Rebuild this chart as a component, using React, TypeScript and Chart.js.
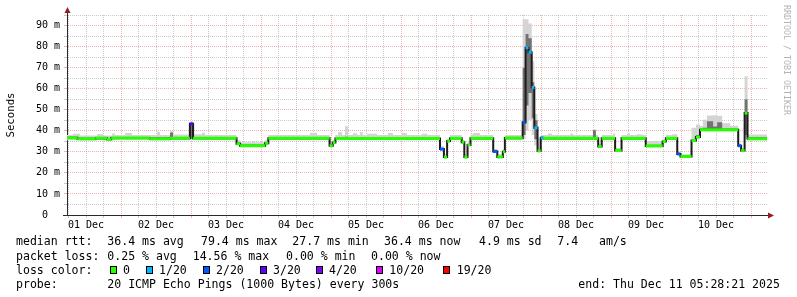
import React, { useEffect, useRef } from 'react';
import { Chart, registerables } from 'chart.js';

Chart.register(...registerables);

// ---- time base: hours since 01 Dec 00:00 (graph spans 10 days ending Dec 11 05:28:21)
const START_HOUR = 5 + 28 / 60 + 21 / 3600;
const END_HOUR = START_HOUR + 240;

const dayLabels = ['01 Dec', '02 Dec', '03 Dec', '04 Dec', '05 Dec', '06 Dec', '07 Dec', '08 Dec', '09 Dec', '10 Dec'];

// ---- median RTT (ms), step series: value holds from time until next time
const medianTimes = [5.47, 9.0, 15.3, 19.2, 20.6, 33.9, 40.8, 47.6, 48.7, 63.6, 64.8, 73.4, 74.5, 95.5, 96.6, 97.5,
  133.35, 134.7, 135.8, 136.8, 140.8, 141.7, 142.8, 143.8, 151.6, 153.0, 154.9, 155.6, 161.7, 162.7, 163.7, 164.8,
  165.7, 166.8, 167.9, 168.7, 187.6, 188.8, 193.4, 195.6, 203.9, 209.7, 210.8, 214.7, 215.8, 219.6, 221.1, 222.5,
  235.6, 236.6, 237.8, 238.8];
const medianValues = [36.7, 36.2, 36.5, 36.0, 36.6, 36.2, 36.5, 43.3, 36.5, 33.8, 32.9, 34.1, 36.5, 32.9, 34.4, 36.3,
  31.3, 27.5, 35.1, 36.4, 34.6, 27.5, 33.3, 36.4, 30.2, 27.6, 30.1, 36.6, 44.0, 79.5, 77.3, 60.6,
  41.4, 30.5, 36.7, 36.4, 32.5, 36.4, 30.6, 36.4, 32.8, 34.9, 36.4, 29.0, 27.8, 35.4, 37.0, 40.5,
  32.9, 30.6, 48.4, 36.2];
// lost pings out of 20 for each median step
const medianLoss = [0, 0, 0, 0, 0, 0, 0, 3, 0, 0, 0, 0, 0, 0, 0, 0,
  2, 0, 0, 0, 0, 0, 0, 0, 2, 0, 0, 0, 2, 1, 1, 1,
  1, 0, 1, 0, 0, 0, 0, 0, 0, 0, 0, 2, 0, 0, 0, 0,
  2, 0, 0, 0];

// ---- smoke (ping spread, ms)
const smokeTimes = [5.47, 7.5, 9.9, 15.8, 17.8, 20.9, 21.9, 25.4, 27.8, 36.3, 37.4, 40.8, 41.8, 47.6, 48.7, 51.8,
  52.8, 63.6, 64.8, 68.9, 69.9, 73.4, 74.5, 88.8, 91.2, 95.5, 96.6, 97.5, 98.4, 99.8, 100.8, 101.8,
  103.5, 104.9, 105.9, 106.9, 108.3, 111.8, 115.5, 117.2, 120.3, 122.0, 127.2, 128.9, 133.35, 134.7, 135.8, 136.8,
  140.8, 141.7, 142.8, 143.8, 144.7, 147.1, 151.6, 153.0, 154.9, 155.6, 161.7, 162.7, 163.7, 164.8,
  165.7, 166.8, 167.9, 170.4, 171.8, 178.0, 179.0, 185.8, 186.8, 187.6, 188.8, 192.6, 193.4, 195.6, 197.5, 198.5,
  200.9, 202.9, 203.9, 209.7, 210.8, 212.9, 214.7, 215.8, 219.6, 221.1, 222.5, 223.5, 224.9, 227.0, 228.4, 230.1,
  232.9, 235.6, 236.6, 237.8, 238.8];
const smokeMin = [35.5, 35.5, 35.4, 35.5, 35.4, 35.4, 35.5, 35.5, 35.5, 35.5, 35.5, 35.6, 35.5, 35.5, 35.5, 35.5,
  35.5, 33.2, 32.3, 32.3, 32.3, 33.6, 35.5, 35.5, 35.5, 32.3, 33.8, 35.5, 35.5, 35.5, 35.5, 35.5,
  35.5, 35.5, 35.5, 35.5, 35.5, 35.5, 35.5, 35.5, 35.5, 35.5, 35.5, 35.5, 30.8, 27.0, 34.6, 35.5,
  34.0, 27.0, 32.8, 35.5, 35.5, 35.5, 29.6, 27.0, 29.6, 35.5, 36.0, 40.0, 45.0, 38.0,
  33.0, 29.8, 35.5, 35.5, 35.5, 35.5, 35.5, 35.5, 35.5, 31.8, 35.5, 35.5, 30.0, 35.5, 35.5, 35.5,
  35.5, 35.5, 32.2, 34.3, 35.5, 35.5, 28.5, 27.2, 34.8, 36.4, 39.8, 39.8, 39.8, 39.8, 39.8, 39.8,
  39.8, 32.3, 30.0, 36.5, 35.5];
const smokeMax = [38.0, 38.6, 37.8, 38.5, 37.8, 38.7, 38.0, 39.0, 38.0, 39.6, 38.0, 39.8, 38.2, 43.8, 38.4, 39.1,
  38.0, 35.6, 34.6, 35.2, 34.6, 35.6, 38.0, 39.1, 38.0, 34.6, 35.8, 38.0, 39.4, 38.0, 42.2, 38.0,
  38.8, 38.0, 39.4, 38.0, 38.6, 38.0, 39.0, 38.0, 39.0, 38.0, 38.6, 38.0, 32.6, 28.8, 36.2, 38.0,
  35.8, 28.8, 34.6, 38.2, 39.0, 38.0, 31.4, 28.8, 31.4, 38.0, 93.0, 93.0, 91.0, 73.0,
  48.0, 36.4, 38.0, 38.7, 38.0, 38.7, 38.0, 40.7, 38.0, 33.8, 38.0, 38.7, 31.8, 38.0, 38.7, 38.0,
  38.4, 38.0, 35.2, 36.0, 38.0, 38.4, 30.2, 28.9, 41.5, 43.0, 42.4, 45.2, 47.3, 47.4, 47.1, 43.6,
  42.4, 34.0, 31.8, 65.9, 38.2];
const smokeCoreLo = [36.2, 36.2, 36.0, 36.0, 35.8, 36.0, 36.2, 36.2, 36.2, 36.2, 36.0, 36.2, 36.2, 36.2, 36.2, 36.2,
  36.2, 33.6, 32.7, 32.7, 32.7, 33.9, 36.0, 36.0, 36.0, 32.7, 34.1, 36.0, 36.0, 36.0, 36.0, 36.0,
  36.0, 36.0, 36.0, 36.0, 36.0, 36.0, 36.0, 36.0, 36.0, 36.0, 36.0, 36.0, 31.1, 27.3, 34.9, 36.0,
  34.3, 27.3, 33.1, 36.0, 36.0, 36.0, 29.9, 27.3, 29.9, 36.0, 38.0, 52.0, 58.0, 46.0,
  36.0, 30.2, 36.0, 36.0, 36.0, 36.0, 36.0, 36.0, 36.0, 32.1, 36.0, 36.0, 30.3, 36.0, 36.0, 36.0,
  36.0, 36.0, 32.5, 34.6, 36.0, 36.0, 28.8, 27.5, 35.2, 36.8, 40.2, 40.2, 40.2, 40.2, 40.2, 40.2,
  40.2, 32.6, 30.3, 38.0, 36.0];
const smokeCoreHi = [36.9, 36.9, 36.6, 36.8, 36.6, 36.9, 36.9, 37.0, 36.9, 37.0, 36.9, 39.2, 36.9, 43.3, 37.0, 37.0,
  36.9, 34.4, 33.4, 33.5, 33.4, 34.5, 36.9, 37.0, 36.9, 33.4, 34.8, 36.9, 37.0, 36.9, 37.2, 36.9,
  37.0, 36.9, 37.0, 36.9, 37.0, 36.9, 37.0, 36.9, 37.0, 36.9, 37.0, 36.9, 31.6, 27.8, 35.4, 36.9,
  35.0, 27.8, 33.6, 36.9, 37.0, 36.9, 30.4, 27.8, 30.4, 36.9, 70.0, 86.0, 84.0, 63.0,
  45.0, 31.0, 36.9, 36.9, 36.9, 36.9, 36.9, 40.2, 36.9, 32.8, 36.9, 36.9, 30.9, 36.9, 36.9, 36.9,
  36.9, 36.9, 33.4, 35.2, 36.9, 36.9, 29.3, 28.0, 36.0, 38.0, 41.0, 41.5, 44.5, 42.0, 44.0, 41.0,
  41.0, 33.2, 30.9, 55.0, 36.9];

// ---- legend content
const lossSteps = [0, 1, 2, 3, 4, 10, 19];
const lossLabels = ['0', '1/20', '2/20', '3/20', '4/20', '10/20', '19/20'];
const lossColors = ['#26ff00', '#00b8ff', '#0059ff', '#5e00ff', '#7e00ff', '#dd00ff', '#ff0000'];
const rttItems = ['median rtt:', '36.4 ms avg', '79.4 ms max', '27.7 ms min', '36.4 ms now', '4.9 ms sd', '7.4   am/s'];
const lossItems = ['packet loss:', '0.25 % avg', '14.56 % max', '0.00 % min', '0.00 % now'];
const lossColorTitle = 'loss color:';
const probeItems = ['probe:', '20 ICMP Echo Pings (1000 Bytes) every 300s'];
const endText = 'end: Thu Dec 11 05:28:21 2025';
const watermark = 'RRDTOOL / TOBI OETIKER';

// ---- layout / style constants
const MONO = "'DejaVu Sans Mono', monospace";
const LEGEND_SIZE = 11.55;
const rttX = [16, 107.3, 201, 292.3, 384, 479, 557.3];
const lossX = [16, 107.3, 192.7, 286, 371];
const lossLabelX = [123, 159, 216, 273, 329, 389.3, 456.7];
const probeX = [16, 107.3];
const endX = 578.3;
const rowBaselines = [245.3, 259.7, 274.3, 288.4];
const MAJOR = 'rgba(220, 70, 70, 0.42)';
const MINOR = 'rgba(150, 150, 150, 0.5)';
const AXIS = '#2a2a2a';
const ARROW = '#9b1c1c';

function lossColor(n: number) {
  let c = lossColors[0];
  lossSteps.forEach((s, i) => { if (n >= s) c = lossColors[i]; });
  return c;
}

function stepPoints(times: number[], values: number[]) {
  const pts = times.map((t, i) => ({ x: t, y: values[i] }));
  pts.push({ x: END_HOUR, y: values[values.length - 1] });
  return pts;
}

function overlayPoints() {
  const pts: { x: number; y: number | null }[] = [];
  medianTimes.forEach((t, i) => {
    const t2 = i + 1 < medianTimes.length ? medianTimes[i + 1] : END_HOUR;
    pts.push({ x: t, y: medianValues[i] }, { x: t2, y: medianValues[i] }, { x: t2, y: null });
  });
  return pts;
}

const xGridHours: number[] = [];
for (let h = 6; h < END_HOUR; h += 6) if (h > START_HOUR) xGridHours.push(h);

const decorPlugin = {
  id: 'smokepingDecor',
  afterDraw(chart: any) {
    const { ctx, chartArea: a } = chart;
    ctx.save();
    // axis extensions
    ctx.strokeStyle = AXIS;
    ctx.lineWidth = 1;
    ctx.beginPath();
    ctx.moveTo(a.left - 4, a.bottom + 0.5);
    ctx.lineTo(a.right + 2, a.bottom + 0.5);
    ctx.moveTo(a.left + 0.5, a.top + 1);
    ctx.lineTo(a.left + 0.5, a.top - 3);
    ctx.stroke();
    // arrows
    ctx.fillStyle = ARROW;
    ctx.beginPath();
    ctx.moveTo(a.left - 2.5, a.top - 2);
    ctx.lineTo(a.left + 3.5, a.top - 2);
    ctx.lineTo(a.left + 0.5, a.top - 8);
    ctx.closePath();
    ctx.fill();
    ctx.beginPath();
    ctx.moveTo(a.right + 1, a.bottom - 2.5);
    ctx.lineTo(a.right + 1, a.bottom + 3.5);
    ctx.lineTo(a.right + 7, a.bottom + 0.5);
    ctx.closePath();
    ctx.fill();

    // legend text
    ctx.fillStyle = '#000';
    ctx.font = `${LEGEND_SIZE}px ${MONO}`;
    ctx.textAlign = 'left';
    ctx.textBaseline = 'alphabetic';
    rttItems.forEach((s, i) => ctx.fillText(s, rttX[i], rowBaselines[0]));
    lossItems.forEach((s, i) => ctx.fillText(s, lossX[i], rowBaselines[1]));
    ctx.fillText(lossColorTitle, 16, rowBaselines[2]);
    lossLabels.forEach((s, i) => {
      const lx = lossLabelX[i];
      const bx = Math.round(lx - 13.5);
      const by = Math.round(rowBaselines[2] - 8.5);
      ctx.fillStyle = '#000';
      ctx.fillRect(bx, by, 7, 8);
      ctx.fillStyle = lossColors[i];
      ctx.fillRect(bx + 1, by + 1, 5, 6);
      ctx.fillStyle = '#000';
      ctx.fillText(s, lx, rowBaselines[2]);
    });
    probeItems.forEach((s, i) => ctx.fillText(s, probeX[i], rowBaselines[3]));
    ctx.fillText(endText, endX, rowBaselines[3]);

    // watermark
    ctx.save();
    ctx.fillStyle = '#b4b4b4';
    ctx.font = `8.3px ${MONO}`;
    ctx.translate(784, 5);
    ctx.rotate(Math.PI / 2);
    ctx.fillText(watermark, 0, 0);
    ctx.restore();
    ctx.restore();
  },
};

export default function App() {
  const ref = useRef<HTMLCanvasElement | null>(null);

  useEffect(() => {
    if (!ref.current) return;
    const band = {
      pointRadius: 0,
      pointHoverRadius: 0,
      borderWidth: 1,
      borderColor: 'rgba(0,0,0,0)',
      stepped: true,
      spanGaps: false,
    };
    const chart = new Chart(ref.current, {
      type: 'line',
      data: {
        datasets: [
          { ...band, data: stepPoints(smokeTimes, smokeMax), fill: { target: 1 }, backgroundColor: '#d4d4d4', order: 5 },
          { ...band, data: stepPoints(smokeTimes, smokeMin), fill: false, order: 4 },
          { ...band, data: stepPoints(smokeTimes, smokeCoreHi), fill: { target: 3 }, backgroundColor: '#727272', order: 3 },
          { ...band, data: stepPoints(smokeTimes, smokeCoreLo), fill: false, order: 2 },
          {
            data: stepPoints(medianTimes, medianValues),
            stepped: true,
            borderColor: '#1c1c1c',
            borderWidth: 2,
            pointRadius: 0,
            fill: false,
            order: 1,
          },
          {
            data: overlayPoints(),
            borderColor: lossColors[0],
            borderWidth: 3,
            borderCapStyle: 'butt',
            pointRadius: 0,
            fill: false,
            spanGaps: false,
            segment: {
              borderColor: (c: any) => lossColor(medianLoss[Math.floor(c.p0DataIndex / 3)]),
            },
            order: 0,
          },
        ] as any,
      },
      options: {
        animation: false,
        responsive: false,
        devicePixelRatio: 1,
        events: [],
        layout: { padding: { left: 0, right: 30, top: 15, bottom: 0 } },
        plugins: {
          legend: { display: false },
          tooltip: { enabled: false },
          title: { display: false },
        },
        scales: {
          x: {
            type: 'linear',
            min: START_HOUR,
            max: END_HOUR,
            bounds: 'data',
            afterBuildTicks: (s: any) => {
              s.ticks = xGridHours.map((v) => ({ value: v }));
            },
            afterFit: (s: any) => {
              s.height = 82;
            },
            grid: {
              color: (c: any) => (c.tick && c.tick.value % 24 === 0 ? MAJOR : MINOR),
              tickColor: (c: any) => (c.tick && c.tick.value % 24 === 0 ? MAJOR : MINOR),
              lineWidth: 1,
              drawTicks: true,
              tickLength: 3,
            },
            border: { display: true, color: AXIS, width: 1, dash: [1, 1] },
            ticks: {
              autoSkip: false,
              maxRotation: 0,
              minRotation: 0,
              padding: 1,
              color: '#000',
              font: { family: MONO, size: 10 },
              callback: (v: any) => {
                const d = (Number(v) - 12) / 24;
                return Number.isInteger(d) && d >= 0 && d < dayLabels.length ? dayLabels[d] : '';
              },
            },
          },
          y: {
            type: 'linear',
            min: 0,
            max: 95,
            afterFit: (s: any) => {
              s.width = 67;
            },
            grid: {
              color: (c: any) => (c.tick && c.tick.value % 10 === 0 ? MAJOR : MINOR),
              tickColor: (c: any) => (c.tick && c.tick.value % 10 === 0 ? MAJOR : MINOR),
              lineWidth: 1,
              drawTicks: true,
              tickLength: 3,
            },
            border: { display: true, color: AXIS, width: 1, dash: [1, 1] },
            ticks: {
              stepSize: 5,
              autoSkip: false,
              padding: 4,
              color: '#000',
              font: { family: MONO, size: 10 },
              callback: (v: any) => {
                const n = Number(v);
                if (n % 10 !== 0) return '';
                return n === 0 ? '0  ' : `${n} m`;
              },
            },
            title: {
              display: true,
              text: 'Seconds',
              color: '#000',
              font: { family: MONO, size: 10.7 },
              padding: { top: 5, bottom: 0 },
            },
          },
        },
      } as any,
      plugins: [decorPlugin],
    });
    return () => chart.destroy();
  }, []);

  return (
    <div style={{ position: 'absolute', left: 0, top: 0, width: 797, height: 297, background: '#fff' }}>
      <canvas ref={ref} width={797} height={297} style={{ display: 'block', width: 797, height: 297 }} />
    </div>
  );
}
